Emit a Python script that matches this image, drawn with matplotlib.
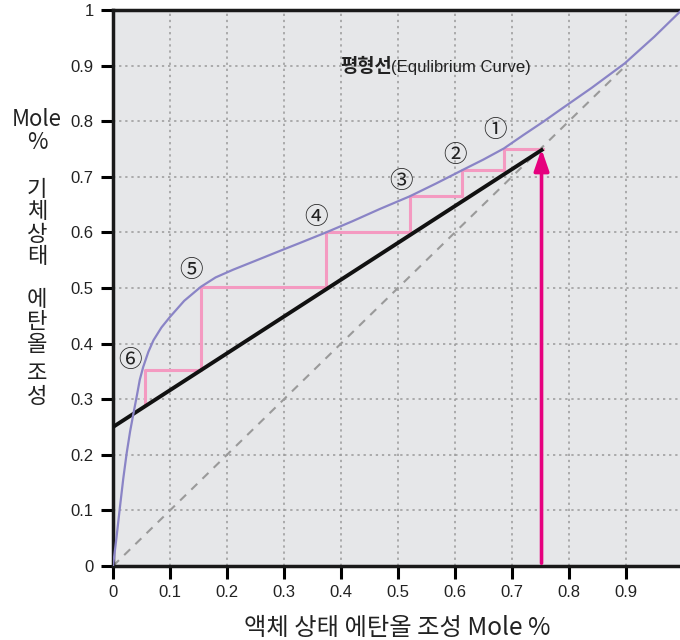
import matplotlib
matplotlib.use("Agg")
import matplotlib.pyplot as plt
import numpy as np

plt.rcParams['font.family'] = ['Liberation Sans', 'Noto Sans CJK KR', 'DejaVu Sans']

# equilibrium curve
eq_x = [0, 0.006, 0.0123, 0.018, 0.024, 0.030, 0.036, 0.042, 0.047, 0.053, 0.062, 0.071,
        0.085, 0.1, 0.125, 0.154, 0.18, 0.211, 0.25, 0.296, 0.328, 0.374, 0.42, 0.468,
        0.521, 0.567, 0.613, 0.65, 0.686, 0.72, 0.755, 0.784, 0.84, 0.898, 0.95, 0.995]
eq_y = [0, 0.05, 0.107, 0.157, 0.203, 0.242, 0.275, 0.307, 0.335, 0.358, 0.385, 0.406,
        0.429, 0.448, 0.477, 0.502, 0.519, 0.533, 0.549, 0.568, 0.581, 0.600, 0.62, 0.642,
        0.665, 0.688, 0.712, 0.731, 0.751, 0.775, 0.799, 0.82, 0.86, 0.904, 0.952, 0.997]

# operating line
op_x = [0, 0.755]
op_y = [0.25, 0.75]

# diagonal y = x
diag_x = [0, 0.9]
diag_y = [0, 0.9]

# stage corners (x on the curve, y of each stage)
step_x = [0.755, 0.686, 0.613, 0.521, 0.374, 0.154, 0.056]
step_y = [0.75, 0.712, 0.665, 0.600, 0.502, 0.352, 0.29]

stage_labels = ['①', '②', '③', '④', '⑤', '⑥']
label_x = [0.670, 0.600, 0.505, 0.356, 0.137, 0.030]
label_y = [0.784, 0.739, 0.692, 0.626, 0.531, 0.369]

xd = 0.752
xticks = [0, 0.1, 0.2, 0.3, 0.4, 0.5, 0.6, 0.7, 0.8, 0.9]
yticks = [0, 0.1, 0.2, 0.3, 0.4, 0.5, 0.6, 0.7, 0.8, 0.9, 1.0]

fig = plt.figure(figsize=(6.8, 6.4), dpi=100)
ax = fig.add_axes([113 / 680, 74 / 640, 567 / 680, 556 / 640])
ax.set_facecolor('#e6e7e9')

ax.set_xlim(0, 0.995)
ax.set_ylim(0, 1.0)
ax.set_xticks(xticks)
ax.set_yticks(yticks)
ax.set_xticklabels(['0' if v == 0 else f'{v:g}' for v in xticks])
ax.set_yticklabels(['0' if v == 0 else f'{v:g}' for v in yticks])
ax.grid(True, linestyle=(0, (1.5, 2.5)), color='#9a9a9a', linewidth=1.1)
ax.set_axisbelow(True)
ax.tick_params(direction='out', length=9, width=2.2, labelsize=12, pad=5,
               labelcolor='#222222')

for side in ['left', 'bottom', 'top']:
    ax.spines[side].set_linewidth(2.5)
    ax.spines[side].set_color('#1a1a1a')
ax.spines['right'].set_visible(False)

# diagonal
ax.plot(diag_x, diag_y, color='#9a9a9a', lw=1.5, linestyle=(0, (4, 3.5)), zorder=2)

# staircase
sx, sy = [step_x[0]], [step_y[0]]
for i in range(1, len(step_x)):
    sx += [step_x[i], step_x[i]]
    sy += [step_y[i - 1], step_y[i]]
ax.plot(sx, sy, color='#f49ac1', lw=2.2, zorder=3)

# operating line
ax.plot(op_x, op_y, color='#111111', lw=2.8, zorder=4, solid_capstyle='butt')

# equilibrium curve
ax.plot(eq_x, eq_y, color='#8a84c6', lw=1.6, zorder=5)

# feed / distillate arrow
ax.annotate('', xy=(xd, step_y[0]), xytext=(xd, 0.005),
            arrowprops=dict(arrowstyle='-|>,head_length=1.3,head_width=0.45',
                            color='#e6007e', lw=2.6, shrinkA=0, shrinkB=0),
            zorder=6)

for t, x, y in zip(stage_labels, label_x, label_y):
    ax.text(x, y, t, ha='center', va='center', fontsize=17,
            family=['Noto Sans CJK KR', 'DejaVu Sans'], color='#222222')

ax.text(0.398, 0.899, '평형선', ha='left', va='center', fontsize=13.5,
        family=['Noto Sans CJK KR'], color='#222222', fontweight='bold')
ax.text(0.488, 0.897, '(Equlibrium Curve)', ha='left', va='center', fontsize=12,
        color='#222222')

fig.text(397 / 680, 1 - 628 / 640, '액체 상태 에탄올 조성 Mole %', ha='center', va='center',
         fontsize=17.5, family=['Noto Sans CJK KR'], color='#222222')

ylab_groups = ['Mole\n%', '기\n체\n상\n태', '에\n탄\n올', '조\n성']
ylab_pos = [131, 223, 322, 385]
for t, yp in zip(ylab_groups, ylab_pos):
    fig.text(37 / 680, 1 - yp / 640, t, ha='center', va='center', fontsize=16,
             family=['Noto Sans CJK KR'], color='#222222', linespacing=0.95)

fig.savefig('out.png', dpi=100)
